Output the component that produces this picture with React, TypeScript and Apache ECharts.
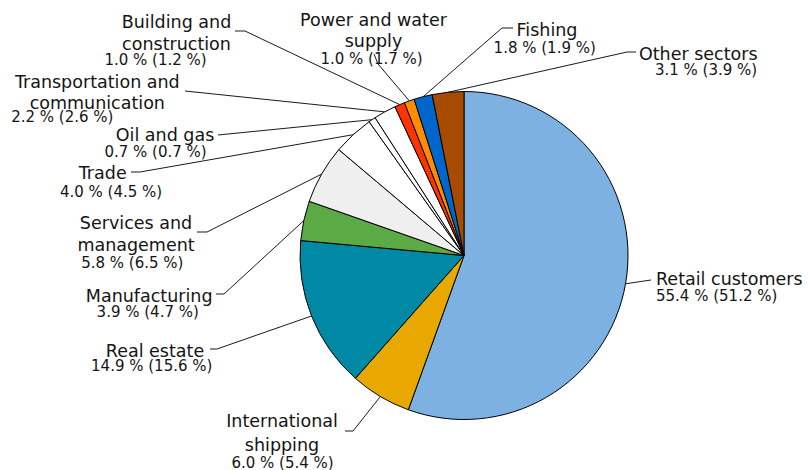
import React, { useEffect, useRef } from 'react';
import * as echarts from 'echarts';

// Sector names, split into the lines they are printed on
const SECTOR_LINES: string[][] = [
  ['Retail customers'],
  ['International', 'shipping'],
  ['Real estate'],
  ['Manufacturing'],
  ['Services and', 'management'],
  ['Trade'],
  ['Oil and gas'],
  ['Transportation and', 'communication'],
  ['Building and', 'construction'],
  ['Power and water', 'supply'],
  ['Fishing'],
  ['Other sectors'],
];
// Share of total lending, per cent (previous year in brackets)
const SHARE_NOW = [55.4, 6.0, 14.9, 3.9, 5.8, 4.0, 0.7, 2.2, 1.0, 1.0, 1.8, 3.1];
const SHARE_PREV = [51.2, 5.4, 15.6, 4.7, 6.5, 4.5, 0.7, 2.6, 1.2, 1.7, 1.9, 3.9];

const SLICE_COLORS = [
  '#7DB1E1', '#E8A800', '#0089A5', '#5CAA46', '#EFEFEF', '#FFFFFF',
  '#FFFFFF', '#FFFFFF', '#FF3300', '#FF8C00', '#0066CC', '#A64B00',
];

const FONT = 'DejaVu Sans, Verdana, sans-serif';
const NAME_SIZE = 17.5;
const VALUE_SIZE = 15;
const BASE_K = 0.35; // alphabetic baseline sits this many ems below a line's centre
const INK = '#141414';

type Spot = {
  x: number; // block centre (or left edge when align is 'left')
  align?: 'left' | 'center';
  b0: number; // baseline of the first name line
  dn: number; // pitch between name lines
  dv: number; // baseline distance from last name line to the value line
  vx: number; // horizontal shift of the value line
  bend: number[][]; // guide-line points after the slice edge
};

// Hand-placed label boxes and their guide lines
const LABEL_SPOTS: Spot[] = [
  { x: 656, align: 'left', b0: 285, dn: 22, dv: 16, vx: 0, bend: [[651, 280]] },
  { x: 282, b0: 427.3, dn: 23.7, dv: 17.3, vx: 0.5, bend: [[353, 431], [345, 431]] },
  { x: 155, b0: 357.3, dn: 22, dv: 13.7, vx: -3.3, bend: [[217, 349], [210, 349]] },
  { x: 149.2, b0: 301.7, dn: 22, dv: 15.6, vx: -1.5, bend: [[224, 294], [216, 294]] },
  { x: 136, b0: 229.3, dn: 21.7, dv: 17.3, vx: -3.7, bend: [[207, 232], [197, 232]] },
  { x: 102.7, b0: 179.3, dn: 22, dv: 17.5, vx: 8.3, bend: [[140, 172], [131, 172]] },
  { x: 165, b0: 141, dn: 22, dv: 16.7, vx: -9.5, bend: [[218, 135]] },
  { x: 97.3, b0: 88.3, dn: 21, dv: 13.4, vx: -35, bend: [[185, 91]] },
  { x: 176.5, b0: 28.3, dn: 21.7, dv: 15, vx: -21, bend: [[245, 31], [235, 31]] },
  { x: 373.5, b0: 26, dn: 20.7, dv: 17.6, vx: -2, bend: [[378, 64], [374, 54]] },
  { x: 547, b0: 36, dn: 22, dv: 17.3, vx: -2.3, bend: [[502, 28], [513, 28]] },
  { x: 698.3, b0: 60, dn: 22, dv: 15, vx: 7.7, bend: [[627, 52], [636, 52]] },
];

function buildRich() {
  const rich: Record<string, any> = {};
  LABEL_SPOTS.forEach((s, i) => {
    const al = s.align || 'center';
    rich['n' + i] = {
      fontFamily: FONT, fontSize: NAME_SIZE, lineHeight: s.dn, align: al, color: INK,
    };
    const lv = 2 * (s.dv - s.dn / 2 + BASE_K * (NAME_SIZE - VALUE_SIZE));
    rich['v' + i] = {
      fontFamily: FONT, fontSize: VALUE_SIZE, lineHeight: lv, align: al, color: INK,
      padding: s.vx < 0 ? [0, -2 * s.vx, 0, 0] : [0, 0, 0, 2 * s.vx],
    };
  });
  return rich;
}

export default function App() {
  const ref = useRef<HTMLDivElement>(null);

  useEffect(() => {
    if (!ref.current) return;
    const chart = echarts.init(ref.current, undefined, { renderer: 'svg' });

    const data = SECTOR_LINES.map((lines, i) => ({
      name: lines.join(' '),
      value: SHARE_NOW[i],
      itemStyle: { color: SLICE_COLORS[i] },
    }));

    chart.setOption({
      animation: false,
      textStyle: { fontFamily: FONT },
      series: [
        {
          type: 'pie',
          center: [464, 255.5],
          radius: 164,
          startAngle: 90,
          clockwise: true,
          avoidLabelOverlap: false,
          silent: true,
          itemStyle: { borderColor: '#000', borderWidth: 1 },
          emphasis: { disabled: true },
          data,
          label: {
            show: true,
            position: 'outside',
            fontFamily: FONT,
            color: INK,
            formatter: (p: any) => {
              const i = p.dataIndex;
              const names = SECTOR_LINES[i].map((l) => `{n${i}|${l}}`).join('\n');
              const val = `${SHARE_NOW[i].toFixed(1)} % (${SHARE_PREV[i].toFixed(1)} %)`;
              return `${names}\n{v${i}|${val}}`;
            },
            rich: buildRich(),
          },
          labelLine: {
            show: true,
            length: 10,
            length2: 10,
            smooth: false,
            lineStyle: { color: '#1a1a1a', width: 1 },
          },
          labelLayout: (p: any) => {
            const s = LABEL_SPOTS[p.dataIndex];
            const top = s.b0 - s.dn / 2 - BASE_K * NAME_SIZE;
            const start = p.labelLinePoints ? p.labelLinePoints[0] : s.bend[0];
            return {
              x: s.x,
              y: top,
              align: s.align || 'center',
              verticalAlign: 'top',
              labelLinePoints: [start, ...s.bend],
            };
          },
        },
      ],
    });

    return () => chart.dispose();
  }, []);

  return (
    <div
      ref={ref}
      style={{ position: 'fixed', left: 0, top: 0, width: 809, height: 470, background: '#fff' }}
    />
  );
}
